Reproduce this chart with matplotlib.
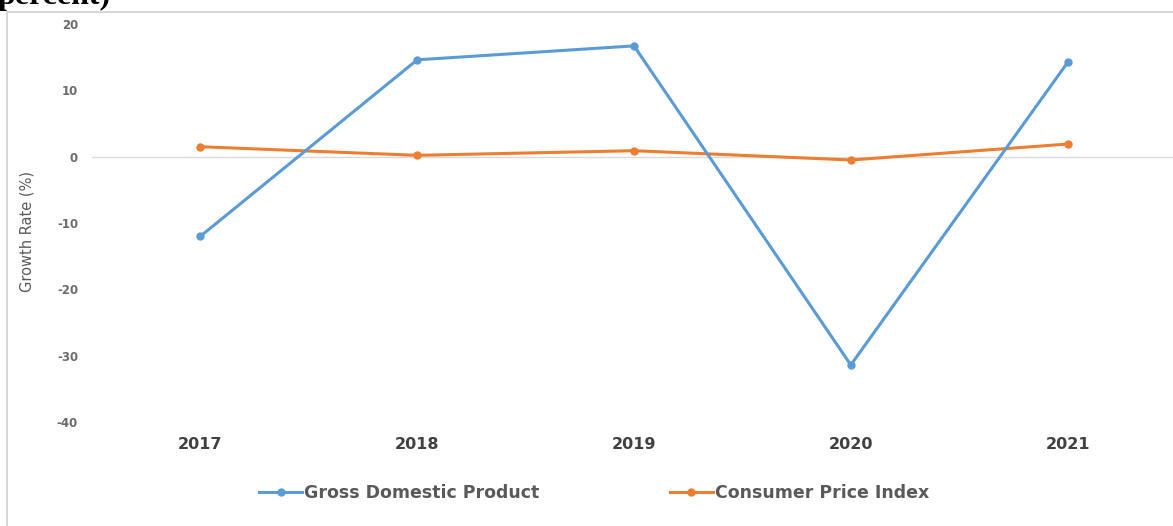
"""
Growth rate of GDP and CPI, 2017-2021 (line chart).
"""
import matplotlib.pyplot as plt
from matplotlib.patches import Rectangle

# Data
years = ['2017', '2018', '2019', '2020', '2021']
gdp = [-12.0, 14.6, 16.7, -31.4, 14.2]
cpi = [1.5, 0.2, 0.9, -0.5, 1.9]
y_ticks = [20, 10, 0, -10, -20, -30, -40]

W, H = 1173, 526
fig = plt.figure(figsize=(W / 100, H / 100), dpi=100)

# Plot area placed in pixel terms
left, right, top, bottom = 92, 1176, 24, 422
ax = fig.add_axes([left / W, 1 - bottom / H, (right - left) / W, (bottom - top) / H])

x = list(range(len(years)))
ax.plot(x, gdp, color='#5B9BD5', lw=2.2, marker='o', ms=5,
        label='Gross Domestic Product', zorder=4)
ax.plot(x, cpi, color='#ED7D31', lw=2.2, marker='o', ms=5,
        label='Consumer Price Index', zorder=3)
ax.axhline(0, color='#d9d9d9', lw=1, zorder=1)

ax.set_xlim(-0.5, len(years) - 0.5)
ax.set_ylim(-40, 20)
ax.set_yticks(y_ticks)
ax.set_yticklabels([str(v) for v in y_ticks], fontsize=8.5,
                   fontweight='bold', color='#6b6b6b')
ax.set_xticks(x)
ax.set_xticklabels(years, fontsize=11.5, fontweight='bold', color='#404040')
ax.tick_params(axis='both', length=0)
ax.tick_params(axis='x', pad=11)
ax.tick_params(axis='y', pad=10)
for s in ax.spines.values():
    s.set_visible(False)

fig.text(27 / W, 1 - 232 / H, 'Growth Rate (%)', rotation=90,
         ha='center', va='center', fontsize=10.5, color='#595959')

fig.legend(loc='center', bbox_to_anchor=(594 / W, 1 - 493 / H), ncol=2,
           frameon=False, prop={'size': 12.5, 'weight': 'bold'},
           handlelength=2.5, handletextpad=0.1, columnspacing=7.5,
           labelcolor='#595959')

# Chart frame and the cut-off title above it
fig.patches.append(Rectangle((7 / W, -0.05), 1.1, 1 - 12 / H + 0.05,
                             transform=fig.transFigure, fill=False,
                             edgecolor='#d0d0d0', lw=1.2))
fig.text(-0.002, 1 - 4 / H, 'percent)', fontsize=23, fontweight='bold',
         family='Liberation Serif', ha='left', va='baseline', color='black')

fig.savefig('out.png', dpi=100)
